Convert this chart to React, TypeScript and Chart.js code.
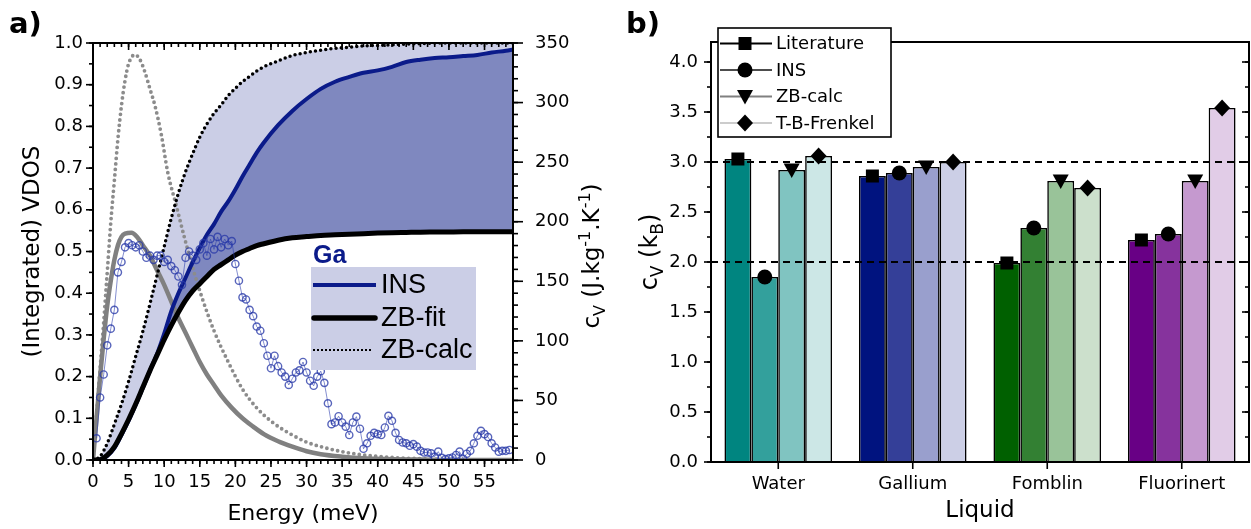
import React, { useEffect, useRef } from "react";
import { Chart, registerables } from "chart.js";
Chart.register(...registerables);

const SANS = "'DejaVu Sans', sans-serif";
const ARIAL = "'Liberation Sans', Arial, sans-serif";

// ---------------- Panel a data ----------------
const insVdosE = [0.5,1,1.5,2,2.5,3,3.5,4,4.5,5,5.5,6,6.5,7,7.5,8,8.5,9,9.5,10,10.5,11,11.5,12,12.5,13,13.5,14,14.5,15,15.5,16,16.5,17,17.5,18,18.5,19,19.5,20,20.5,21,21.5,22,22.5,23,23.5,24,24.5,25,25.5,26,26.5,27,27.5,28,28.5,29,29.5,30,30.5,31,31.5,32,32.5,33,33.5,34,34.5,35,35.5,36,36.5,37,37.5,38,38.5,39,39.5,40,40.5,41,41.5,42,42.5,43,43.5,44,44.5,45,45.5,46,46.5,47,47.5,48,48.5,49,49.5,50,50.5,51,51.5,52,52.5,53,53.5,54,54.5,55,55.5,56,56.5,57,57.5,58,58.5];
const insVdosV = [0.052,0.15,0.205,0.275,0.315,0.36,0.45,0.475,0.51,0.52,0.515,0.51,0.515,0.5,0.485,0.49,0.48,0.49,0.49,0.475,0.48,0.465,0.455,0.44,0.42,0.485,0.5,0.49,0.48,0.505,0.52,0.49,0.53,0.505,0.535,0.51,0.53,0.515,0.525,0.47,0.43,0.39,0.385,0.36,0.345,0.32,0.31,0.28,0.25,0.22,0.25,0.225,0.21,0.2,0.18,0.195,0.21,0.215,0.235,0.21,0.19,0.178,0.2,0.213,0.185,0.136,0.086,0.09,0.105,0.09,0.08,0.06,0.09,0.104,0.075,0.027,0.04,0.058,0.065,0.062,0.06,0.078,0.106,0.094,0.065,0.048,0.042,0.04,0.034,0.038,0.032,0.022,0.018,0.018,0.016,0.008,0.02,0.005,0.002,0.004,0.006,0.012,0.02,0.003,0.015,0.022,0.04,0.058,0.07,0.062,0.055,0.04,0.03,0.02,0.022,0.022,0.024];

const zbCalcVdosE = [0,0.5,1,1.5,2,2.5,3,3.5,4,4.5,5,5.9,6.6,7.3,8,8.7,9.6,10.5,11.7,12.9,14.2,15.5,17,19,21,23,25.4,28,30,32,35,38,42,46,50,55,59];
const zbCalcVdosV = [0,0.11,0.22,0.33,0.45,0.57,0.67,0.77,0.85,0.91,0.95,0.972,0.96,0.93,0.89,0.85,0.78,0.69,0.61,0.53,0.45,0.38,0.31,0.235,0.17,0.125,0.088,0.06,0.043,0.032,0.02,0.012,0.006,0.003,0.001,0,0];

const zbFitVdosE = [0,0.5,1,1.5,2,2.5,3,3.5,4,4.5,5.4,6.2,7,8,9,10,11,12,13,14,15,16,17,18,19.5,21,22.5,24,26,28,30,32,35,38,42,46,50,59];
const zbFitVdosV = [0,0.1,0.2,0.29,0.37,0.43,0.48,0.515,0.535,0.543,0.545,0.535,0.515,0.49,0.455,0.42,0.38,0.34,0.305,0.27,0.235,0.205,0.18,0.155,0.125,0.1,0.08,0.062,0.045,0.032,0.021,0.014,0.008,0.004,0.002,0.001,0,0];

const cumE = [0,1,2,3,4,5,6,7,8,9,10,11,12,13,14,15,16,17,18,19,20,21,22,23,24,26,28,30,32,34,36,38,40,42,44,46,48,50,52,54,56,58,59];
const cvZbFit = [0,0.3,4,11,22,34,47,61,75,88,101,113,124,134,142,148,154,160,164,168,172,175,177.5,180,181.5,184.5,186.5,187.5,188.5,189,189.5,190,190.5,190.8,191,191.2,191.3,191.4,191.5,191.5,191.5,191.5,191.5];
const cvZbCalc = [0,3,14,30,47,66,87,108,131,155,179,203,224,242,257,271,282,291,298,306,312,317.5,322,326.5,330,335,339.5,342,344,345.5,346.5,347.5,348,348.5,349,349.5,350,350,350,350,350,350,350];
const cvIns = [0,0.3,3.5,10,21,33,46.5,60.5,75,89,106,125,140,153,166,178,189,198,208.5,217,227,238,248,258,266.5,281,293,303,311.5,317.5,321.5,325,327,330,334,336,337.4,338,339,340,342,343.5,344.5];

const energyTicks = [0,5,10,15,20,25,30,35,40,45,50,55];
const vdosTicks = [0,0.1,0.2,0.3,0.4,0.5,0.6,0.7,0.8,0.9,1.0];
const cvTicks = [0,50,100,150,200,250,300,350];

// ---------------- Panel b data ----------------
const liquids = ["Water","Gallium","Fomblin","Fluorinert"];
const literature = [3.03, 2.86, 1.99, 2.22];
const insCv = [1.85, 2.89, 2.34, 2.28];
const zbCalcCv = [2.92, 2.95, 2.81, 2.81];
const tbFrenkel = [3.06, 3.00, 2.74, 3.54];
const kbTicks = [0,0.5,1.0,1.5,2.0,2.5,3.0,3.5,4.0];
const refLines = [2.0, 3.0];

const literatureColors = ["#008580","#00137F","#006000","#680085"];
const insColors = ["#33A09C","#343F98","#338033","#86339D"];
const zbColors = ["#80C4C1","#999FCD","#99C399","#C599CF"];
const tbColors = ["#CCE7E6","#CCCFE6","#CCE0CC","#E1CCE7"];

const LIGHT = "#CBCEE6";
const DARK = "#7F88BF";
const NAVY = "#0B1B8A";

const pts = (xs: number[], ys: number[]) => xs.map((x, i) => ({ x, y: ys[i] }));
const range = (a: number, b: number, s: number) => {
  const out: number[] = [];
  for (let v = a; v <= b + 1e-9; v += s) out.push(Math.round(v * 1000) / 1000);
  return out;
};

type TickSpec = { axis: string; values: number[]; len: number; side: "left" | "right" | "top" | "bottom"; dir: "in" | "out" };
function drawTicks(chart: any, specs: TickSpec[]) {
  const { ctx, chartArea: ca } = chart;
  ctx.save();
  ctx.strokeStyle = "#000";
  ctx.lineWidth = 1.6;
  for (const s of specs) {
    const sc = chart.scales[s.axis];
    for (const v of s.values) {
      const p = sc.getPixelForValue(v);
      const sgn = s.dir === "out" ? 1 : -1;
      ctx.beginPath();
      if (s.side === "left") { ctx.moveTo(ca.left, p); ctx.lineTo(ca.left - sgn * s.len, p); }
      else if (s.side === "right") { ctx.moveTo(ca.right, p); ctx.lineTo(ca.right + sgn * s.len, p); }
      else if (s.side === "bottom") { ctx.moveTo(p, ca.bottom); ctx.lineTo(p, ca.bottom + sgn * s.len); }
      else { ctx.moveTo(p, ca.top); ctx.lineTo(p, ca.top - sgn * s.len); }
      ctx.stroke();
    }
  }
  ctx.restore();
}

type Seg = { t: string; k?: "sub" | "sup" };
function drawRich(ctx: CanvasRenderingContext2D, segs: Seg[], cx: number, cy: number, size: number, rotate: boolean) {
  ctx.save();
  ctx.translate(cx, cy);
  if (rotate) ctx.rotate(-Math.PI / 2);
  const small = Math.round(size * 0.7);
  const widths = segs.map((s) => {
    ctx.font = `${s.k ? small : size}px ${SANS}`;
    return ctx.measureText(s.t).width;
  });
  const total = widths.reduce((a, b) => a + b, 0);
  let x = -total / 2;
  ctx.textBaseline = "alphabetic";
  ctx.textAlign = "left";
  ctx.fillStyle = "#000";
  const base = size * 0.36;
  segs.forEach((s, i) => {
    ctx.font = `${s.k ? small : size}px ${SANS}`;
    const dy = s.k === "sub" ? size * 0.25 : s.k === "sup" ? -size * 0.42 : 0;
    ctx.fillText(s.t, x, base + dy);
    x += widths[i];
  });
  ctx.restore();
}

function seg(ctx: CanvasRenderingContext2D, x1: number, y1: number, x2: number, y2: number, color: string, w: number, dash: number[] = [], cap: CanvasLineCap = "butt") {
  ctx.save();
  ctx.strokeStyle = color;
  ctx.lineWidth = w;
  ctx.setLineDash(dash);
  ctx.lineCap = cap;
  ctx.beginPath();
  ctx.moveTo(x1, y1);
  ctx.lineTo(x2, y2);
  ctx.stroke();
  ctx.restore();
}

function drawMarker(ctx: CanvasRenderingContext2D, shape: string, x: number, y: number) {
  ctx.save();
  ctx.fillStyle = "#000";
  ctx.beginPath();
  if (shape === "square") ctx.rect(x - 6.5, y - 6.5, 13, 13);
  else if (shape === "circle") ctx.arc(x, y, 7.5, 0, Math.PI * 2);
  else if (shape === "triangle") { ctx.moveTo(x - 8, y - 6.5); ctx.lineTo(x + 8, y - 6.5); ctx.lineTo(x, y + 8); ctx.closePath(); }
  else { ctx.moveTo(x, y - 8.5); ctx.lineTo(x + 8, y); ctx.lineTo(x, y + 8.5); ctx.lineTo(x - 8, y); ctx.closePath(); }
  ctx.fill();
  ctx.restore();
}

const tickFont = { family: SANS, size: 18 };

function makeConfigA(): any {
  const panelAPlugin = {
    id: "panelA",
    afterDraw(chart: any) {
      const { ctx, chartArea: ca } = chart;
      ctx.save();
      ctx.strokeStyle = "#000";
      ctx.lineWidth = 2;
      ctx.strokeRect(ca.left, ca.top, ca.right - ca.left, ca.bottom - ca.top);
      ctx.restore();
      drawTicks(chart, [
        { axis: "x", values: range(0, 59, 1), len: 4, side: "bottom", dir: "out" },
        { axis: "x", values: energyTicks, len: 7, side: "bottom", dir: "out" },
        { axis: "x", values: range(0, 59, 1), len: 4, side: "top", dir: "in" },
        { axis: "x", values: energyTicks, len: 7, side: "top", dir: "in" },
        { axis: "y", values: range(0, 1, 0.05), len: 4, side: "left", dir: "out" },
        { axis: "y", values: vdosTicks, len: 7, side: "left", dir: "out" },
        { axis: "y1", values: range(0, 350, 10), len: 5, side: "right", dir: "out" },
        { axis: "y1", values: cvTicks, len: 10, side: "right", dir: "out" },
      ]);
      drawRich(ctx, [{ t: "c" }, { t: "V", k: "sub" }, { t: " (J.kg" }, { t: "-1", k: "sup" }, { t: ".K" }, { t: "-1", k: "sup" }, { t: ")" }], 591, 256, 23, true);
      ctx.save();
      ctx.fillStyle = "#000";
      ctx.font = `bold 29px ${SANS}`;
      ctx.textBaseline = "alphabetic";
      ctx.textAlign = "left";
      ctx.fillText("a)", 9, 33);
      // legend
      ctx.fillStyle = LIGHT;
      ctx.fillRect(311, 267, 165, 103);
      ctx.fillStyle = NAVY;
      ctx.font = `bold 25px ${ARIAL}`;
      ctx.fillText("Ga", 313, 263);
      ctx.restore();
      seg(ctx, 313, 285, 376, 285, NAVY, 4);
      seg(ctx, 314, 318, 375, 318, "#000", 5.5, [], "round");
      seg(ctx, 313, 350, 373, 350, "#000", 2, [2, 2]);
      ctx.save();
      ctx.fillStyle = "#000";
      ctx.font = `27px ${ARIAL}`;
      ctx.textBaseline = "middle";
      ctx.textAlign = "left";
      ctx.fillText("INS", 381, 286);
      ctx.fillText("ZB-fit", 381, 319);
      ctx.fillText("ZB-calc", 381, 351);
      ctx.restore();
    },
  };

  return {
    type: "line",
    data: {
      datasets: [
        {
          label: "ZB-calc cV",
          data: pts(cumE, cvZbCalc),
          yAxisID: "y1",
          borderColor: "#000",
          borderWidth: 3.5,
          borderDash: [0, 5.2],
          borderCapStyle: "round",
          pointRadius: 0,
          cubicInterpolationMode: "monotone",
          fill: { target: 2, above: LIGHT, below: "rgba(0,0,0,0)" },
          order: 4,
        },
        {
          label: "INS cV",
          data: pts(cumE, cvIns),
          yAxisID: "y1",
          borderColor: NAVY,
          borderWidth: 4,
          pointRadius: 0,
          cubicInterpolationMode: "monotone",
          fill: { target: 2, above: DARK, below: "rgba(0,0,0,0)" },
          order: 3,
        },
        {
          label: "ZB-fit cV",
          data: pts(cumE, cvZbFit),
          yAxisID: "y1",
          borderColor: "#000",
          borderWidth: 5,
          pointRadius: 0,
          cubicInterpolationMode: "monotone",
          fill: false,
          order: 2,
        },
        {
          label: "ZB-calc VDOS",
          data: pts(zbCalcVdosE, zbCalcVdosV),
          yAxisID: "y",
          borderColor: "#8c8c8c",
          borderWidth: 3.8,
          borderDash: [0, 5.5],
          borderCapStyle: "round",
          pointRadius: 0,
          cubicInterpolationMode: "monotone",
          fill: false,
          order: 6,
        },
        {
          label: "ZB-fit VDOS",
          data: pts(zbFitVdosE, zbFitVdosV),
          yAxisID: "y",
          borderColor: "#808080",
          borderWidth: 4.5,
          pointRadius: 0,
          cubicInterpolationMode: "monotone",
          fill: false,
          order: 5,
        },
        {
          label: "INS VDOS",
          data: pts(insVdosE, insVdosV),
          yAxisID: "y",
          showLine: true,
          borderColor: "rgba(50,66,175,0.6)",
          borderWidth: 1,
          pointRadius: 3.6,
          pointBorderWidth: 1.4,
          pointBackgroundColor: "rgba(0,0,0,0)",
          pointBorderColor: "rgba(40,56,168,0.78)",
          fill: false,
          order: 0,
        },
      ],
    },
    options: {
      animation: false,
      responsive: true,
      maintainAspectRatio: false,
      devicePixelRatio: 1,
      layout: { padding: { top: 43, left: 0, right: 0, bottom: 0 } },
      plugins: {
        legend: { display: false },
        tooltip: { enabled: false },
        filler: { drawTime: "beforeDatasetsDraw" },
      },
      scales: {
        x: {
          type: "linear",
          min: 0,
          max: 59,
          grid: { display: false, drawTicks: false },
          border: { display: false },
          afterBuildTicks: (s: any) => { s.ticks = energyTicks.map((v) => ({ value: v })); },
          afterFit: (s: any) => { s.height = 69; },
          ticks: { font: tickFont, color: "#000", padding: 12, maxRotation: 0, autoSkip: false, callback: (v: any) => String(v) },
          title: { display: true, text: "Energy (meV)", color: "#000", font: { family: SANS, size: 22 }, padding: { top: 0, bottom: 2 } },
        },
        y: {
          type: "linear",
          position: "left",
          min: 0,
          max: 1,
          grid: { display: false, drawTicks: false },
          border: { display: false },
          afterBuildTicks: (s: any) => { s.ticks = vdosTicks.map((v) => ({ value: v })); },
          afterFit: (s: any) => { s.width = 93; },
          ticks: { font: tickFont, color: "#000", padding: 10, callback: (v: any) => Number(v).toFixed(1) },
          title: { display: true, text: "(Integrated) VDOS", color: "#000", font: { family: SANS, size: 23 }, padding: { top: 19, bottom: 0 } },
        },
        y1: {
          type: "linear",
          position: "right",
          min: 0,
          max: 350,
          grid: { display: false, drawTicks: false },
          border: { display: false },
          afterBuildTicks: (s: any) => { s.ticks = cvTicks.map((v) => ({ value: v })); },
          afterFit: (s: any) => { s.width = 102; },
          ticks: { font: tickFont, color: "#000", padding: 22, callback: (v: any) => String(v) },
        },
      },
    },
    plugins: [panelAPlugin],
  };
}

function makeConfigB(): any {
  const shapes = ["square", "circle", "triangle", "diamond"];
  const legendNames = ["Literature", "INS", "ZB-calc", "T-B-Frenkel"];
  const legendLineColors = ["#000000", "#4d4d4d", "#808080", "#cccccc"];
  const panelBPlugin = {
    id: "panelB",
    afterDatasetsDraw(chart: any) {
      const { ctx, chartArea: ca } = chart;
      const ys = chart.scales.y;
      for (const v of refLines) {
        const p = ys.getPixelForValue(v);
        seg(ctx, ca.left, p, ca.right, p, "#000", 2, [7, 5]);
      }
      chart.data.datasets.forEach((_: any, i: number) => {
        const meta = chart.getDatasetMeta(i);
        meta.data.forEach((el: any) => drawMarker(ctx, shapes[i], el.x, el.y));
      });
    },
    afterDraw(chart: any) {
      const { ctx, chartArea: ca } = chart;
      ctx.save();
      ctx.strokeStyle = "#000";
      ctx.lineWidth = 2;
      ctx.strokeRect(ca.left, ca.top, ca.right - ca.left, ca.bottom - ca.top);
      ctx.restore();
      drawTicks(chart, [
        { axis: "y", values: range(0, 4.2, 0.25), len: 4, side: "left", dir: "out" },
        { axis: "y", values: kbTicks, len: 7, side: "left", dir: "out" },
        { axis: "y", values: range(0, 4.2, 0.25), len: 4, side: "right", dir: "in" },
        { axis: "y", values: kbTicks, len: 7, side: "right", dir: "in" },
        { axis: "x", values: liquids.map((_, i) => i), len: 7, side: "bottom", dir: "out" },
      ]);
      drawRich(ctx, [{ t: "c" }, { t: "V", k: "sub" }, { t: " (k" }, { t: "B", k: "sub" }, { t: ")" }], 33, 252, 24, true);
      ctx.save();
      ctx.fillStyle = "#000";
      ctx.font = `bold 29px ${SANS}`;
      ctx.textBaseline = "alphabetic";
      ctx.textAlign = "left";
      ctx.fillText("b)", 11, 33);
      // legend box
      ctx.fillStyle = "#fff";
      ctx.fillRect(103, 28, 173, 109);
      ctx.strokeStyle = "#000";
      ctx.lineWidth = 1.6;
      ctx.strokeRect(103, 28, 173, 109);
      ctx.restore();
      const rows = [43.5, 70, 96.5, 123];
      rows.forEach((ry, i) => {
        seg(ctx, 105, ry, 157, ry, legendLineColors[i], 2);
        drawMarker(ctx, shapes[i], 130, ry);
        ctx.save();
        ctx.fillStyle = "#000";
        ctx.font = `18px ${SANS}`;
        ctx.textBaseline = "middle";
        ctx.textAlign = "left";
        ctx.fillText(legendNames[i], 161, ry + 1);
        ctx.restore();
      });
    },
  };

  const barCommon = { borderColor: "#000", borderWidth: 1.6, categoryPercentage: 0.8, barPercentage: 1.0 };
  return {
    type: "bar",
    data: {
      labels: liquids,
      datasets: [
        { label: "Literature", data: literature, backgroundColor: literatureColors, ...barCommon },
        { label: "INS", data: insCv, backgroundColor: insColors, ...barCommon },
        { label: "ZB-calc", data: zbCalcCv, backgroundColor: zbColors, ...barCommon },
        { label: "T-B-Frenkel", data: tbFrenkel, backgroundColor: tbColors, ...barCommon },
      ],
    },
    options: {
      animation: false,
      responsive: true,
      maintainAspectRatio: false,
      devicePixelRatio: 1,
      layout: { padding: { top: 42, left: 0, right: 2, bottom: 0 } },
      plugins: { legend: { display: false }, tooltip: { enabled: false } },
      scales: {
        x: {
          type: "category",
          offset: true,
          grid: { display: false, drawTicks: false },
          border: { display: false },
          afterFit: (s: any) => { s.height = 67; },
          ticks: { font: tickFont, color: "#000", padding: 12, maxRotation: 0, autoSkip: false },
          title: { display: true, text: "Liquid", color: "#000", font: { family: SANS, size: 23 }, padding: { top: 0, bottom: 4 } },
        },
        y: {
          type: "linear",
          min: 0,
          max: 4.2,
          grid: { display: false, drawTicks: false },
          border: { display: false },
          afterBuildTicks: (s: any) => { s.ticks = kbTicks.map((v) => ({ value: v })); },
          afterFit: (s: any) => { s.width = 96; },
          ticks: { font: tickFont, color: "#000", padding: 13, callback: (v: any) => Number(v).toFixed(1) },
        },
      },
    },
    plugins: [panelBPlugin],
  };
}

export default function App() {
  const refA = useRef<HTMLCanvasElement>(null);
  const refB = useRef<HTMLCanvasElement>(null);
  useEffect(() => {
    document.body.style.margin = "0";
    const a = new Chart(refA.current as HTMLCanvasElement, makeConfigA());
    const b = new Chart(refB.current as HTMLCanvasElement, makeConfigB());
    return () => { a.destroy(); b.destroy(); };
  }, []);
  return (
    <div style={{ position: "absolute", left: 0, top: 0, width: 1251, height: 529, background: "#fff", overflow: "hidden" }}>
      <div style={{ position: "absolute", left: 0, top: 0, width: 615, height: 529 }}>
        <canvas ref={refA} />
      </div>
      <div style={{ position: "absolute", left: 615, top: 0, width: 636, height: 529 }}>
        <canvas ref={refB} />
      </div>
    </div>
  );
}
